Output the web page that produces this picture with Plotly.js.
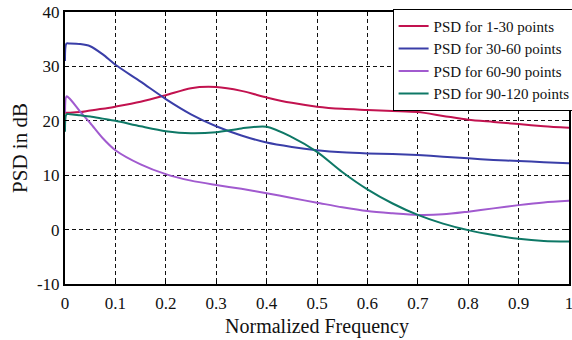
<!DOCTYPE html>
<html>
<head>
<meta charset="utf-8">
<script src="https://cdn.plot.ly/plotly-3.0.1.min.js"></script>
<style>
  html, body { margin: 0; padding: 0; background: #fff; }
  #chart { width: 572px; height: 340px; }
</style>
</head>
<body>
<div id="chart"></div>
<script>
// Normalized frequency samples
const freq = [0, 0.003, 0.01, 0.03, 0.05, 0.075, 0.1, 0.15, 0.2, 0.25, 0.3, 0.35, 0.4, 0.45, 0.5, 0.55, 0.6, 0.65, 0.7, 0.75, 0.8, 0.85, 0.9, 0.95, 1.0];

// PSD estimates (dB) for each 30-point segment
const psd1to30   = [21.5, 21.5, 21.5, 21.6, 21.9, 22.2, 22.6, 23.5, 24.7, 26.0, 26.2, 25.5, 24.3, 23.3, 22.6, 22.2, 22.0, 21.8, 21.6, 20.9, 20.2, 19.8, 19.4, 19.0, 18.7];
const psd30to60  = [31.0, 34.2, 34.2, 34.1, 33.7, 32.2, 30.3, 27.2, 24.0, 21.2, 19.0, 17.3, 16.0, 15.2, 14.6, 14.2, 14.0, 13.9, 13.7, 13.4, 13.1, 12.8, 12.6, 12.4, 12.2];
const psd60to90  = [21.5, 24.5, 24.0, 21.7, 19.6, 16.8, 14.6, 12.0, 10.2, 9.0, 8.2, 7.5, 6.7, 5.8, 4.95, 4.1, 3.4, 3.0, 2.7, 2.8, 3.3, 3.9, 4.5, 5.0, 5.3];
const psd90to120 = [18.0, 21.2, 21.2, 21.0, 20.8, 20.4, 20.0, 19.0, 18.1, 17.7, 17.9, 18.6, 18.9, 17.0, 14.3, 10.6, 7.4, 4.8, 2.7, 1.1, -0.1, -1.0, -1.7, -2.1, -2.2];

const seriesNames = ['PSD for 1-30 points', 'PSD for 30-60 points', 'PSD for 60-90 points', 'PSD for 90-120 points'];
const seriesColors = ['#C2124F', '#3A3EA8', '#A15ACF', '#0E7866'];
const seriesValues = [psd1to30, psd30to60, psd60to90, psd90to120];

// Axis tick positions and labels
const xTickVals = [0, 0.1, 0.2, 0.3, 0.4, 0.5, 0.6, 0.7, 0.8, 0.9, 1];
const xTickText = ['0', '0.1', '0.2', '0.3', '0.4', '0.5', '0.6', '0.7', '0.8', '0.9', '1'];
const yTickVals = [-10, 0, 10, 20, 30, 40];
const yTickText = ['-10', '0', '10', '20', '30', '40'];

const traces = seriesValues.map((vals, i) => ({
  x: freq,
  y: vals,
  type: 'scatter',
  mode: 'lines',
  name: seriesNames[i],
  line: { color: seriesColors[i], width: 2, shape: 'spline', smoothing: 0.8 }
}));

const serif = '"Liberation Serif", "Times New Roman", serif';

const axisCommon = {
  showline: true,
  linecolor: '#000',
  linewidth: 2,
  mirror: 'ticks',
  ticks: 'inside',
  ticklen: 4,
  tickcolor: '#000',
  showgrid: true,
  gridcolor: '#111',
  griddash: '4px,3px',
  gridwidth: 1,
  zeroline: false,
  tickmode: 'array',
  ticklabeloverflow: 'allow',
  tickfont: { family: serif, size: 17, color: '#111' }
};

const layout = {
  width: 572,
  height: 340,
  margin: { l: 65, r: 3, t: 12, b: 56, autoexpand: false },
  paper_bgcolor: '#fff',
  plot_bgcolor: '#fff',
  xaxis: Object.assign({}, axisCommon, {
    range: [0, 1],
    tickvals: xTickVals,
    ticktext: xTickText,
    ticklabelstandoff: 3,
    title: { text: 'Normalized Frequency', font: { family: serif, size: 20, color: '#111' }, standoff: 7 }
  }),
  yaxis: Object.assign({}, axisCommon, {
    range: [-10, 40],
    tickvals: yTickVals,
    ticktext: yTickText,
    title: { text: 'PSD in dB', font: { family: serif, size: 21, color: '#111' }, standoff: 4 }
  }),
  legend: {
    x: 0.65, y: 1.012, xanchor: 'left', yanchor: 'top',
    bgcolor: '#fff',
    bordercolor: '#000',
    borderwidth: 1,
    font: { family: serif, size: 15, color: '#111' },
    itemwidth: 30,
    tracegroupgap: 0
  },
  showlegend: true
};

Plotly.newPlot('chart', traces, layout, { displayModeBar: false, staticPlot: true });
</script>
</body>
</html>
